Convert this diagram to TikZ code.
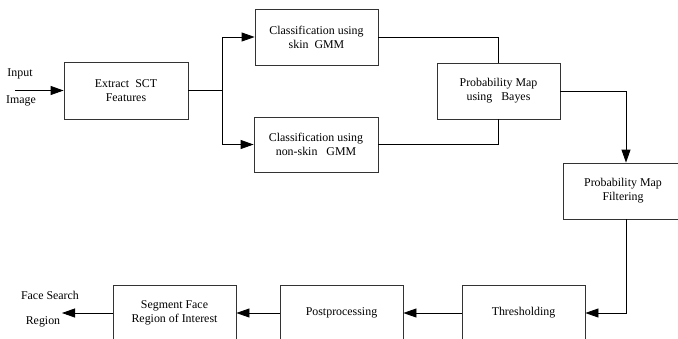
\documentclass[tikz,border=0pt]{standalone}
\usepackage{fontspec}
\setmainfont{Liberation Serif}
\usetikzlibrary{arrows.meta}
\begin{document}
\begin{tikzpicture}[x=1pt,y=-1pt,
  blk/.style={draw=black!80, line width=0.8pt, rectangle, align=center, inner sep=0pt,
     font=\fontsize{11.9}{13.8}\selectfont},
  lbl/.style={font=\fontsize{11.9}{14}\selectfont, inner sep=0pt},
  conn/.style={line width=0.8pt, black},
  arr/.style={conn, -{Triangle[length=13pt,width=9pt]}}]
\useasboundingbox (0,0) rectangle (678,338);
\clip (0,0) rectangle (678,338);
\node[blk, minimum width=124, minimum height=57] (ext) at (126,90.5) {Extract\ \ SCT\\Features};
\node[blk, minimum width=123, minimum height=56] (skin) at (316.5,37) {Classification using\\skin\ \ GMM};
\node[blk, minimum width=124, minimum height=55] (nskin) at (316,144.5) {Classification using\\non-skin\ \ \ GMM};
\node[blk, minimum width=123, minimum height=56] (bayes) at (498.5,91) {Probability Map\\using\ \ \ Bayes};
\node[blk, minimum width=120, minimum height=56] (filt) at (623,191) {Probability Map\\Filtering};
\node[blk, minimum width=123, minimum height=56] (thr) at (523.5,313) {Thresholding};
\node[blk, minimum width=123, minimum height=56] (post) at (341.5,313) {Postprocessing};
\node[blk, minimum width=123, minimum height=56] (seg) at (174.5,313) {Segment Face\\Region of Interest};
\node[lbl] (in1) at (20,74) {Input};
\node[lbl] (in2) at (21,101) {Image};
\node[lbl] (fs1) at (50,295) {Face Search};
\node[lbl] (fs2) at (43,322) {Region};
\coordinate (src) at (15,90.5);
\coordinate (sink) at (62,313);
\coordinate (split) at (222,90.5);
\draw[arr] (src) -- (ext.west);
\draw[conn] (ext.east) -- (split);
\draw[arr] (split) |- (skin.west);
\draw[arr] (split) |- (nskin.west);
\draw[conn] (skin.east) -| (bayes.north);
\draw[conn] (nskin.east) -| (bayes.south);
\draw[arr] (bayes.east) -| ([xshift=3pt]filt.north);
\draw[arr] ([xshift=3pt]filt.south) |- (thr.east);
\draw[arr] (thr.west) -- (post.east);
\draw[arr] (post.west) -- (seg.east);
\draw[arr] (seg.west) -- (sink);
\end{tikzpicture}
\end{document}
